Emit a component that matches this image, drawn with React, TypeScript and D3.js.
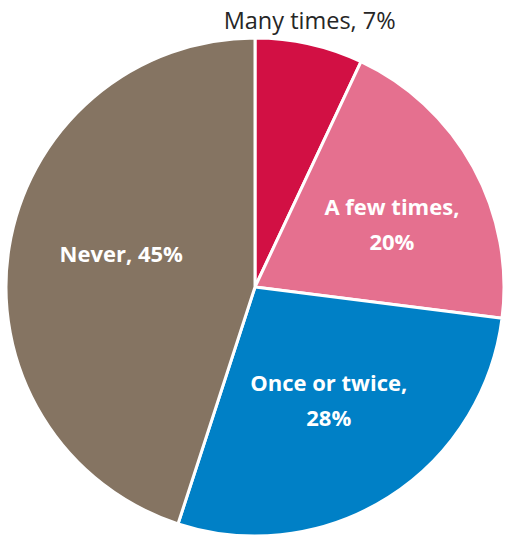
import React from "react";
import * as d3 from "d3";

const categories = ["Many times", "A few times", "Once or twice", "Never"];
const values = [7, 20, 28, 45];
const colors = ["#D21044", "#E5708F", "#0080C6", "#857462"];
const insideLabel = [false, true, true, true];
const labelLines = [["Many times, 7%"], ["A few times,", "20%"], ["Once or twice,", "28%"], ["Never, 45%"]];

export default function App() {
  const W = 507, H = 539;
  const cx = 255, cy = 287, r = 249;
  const labelRadius = [1.08, 0.6, 0.53, 0.54];
  const labelShift = [[-4, -5], [6, 8], [3, 1], [-1, -13]];
  const pie = d3.pie<number>().sort(null).value((d) => d);
  const arcs = pie(values);
  const arc = d3.arc<d3.PieArcDatum<number>>().innerRadius(0).outerRadius(r);
  const font = "'Open Sans', 'Noto Sans', sans-serif";
  return (
    <svg width={W} height={H} style={{ position: "absolute", left: 0, top: 0 }}>
      <g transform={`translate(${cx},${cy})`}>
        {arcs.map((a, i) => (
          <path key={categories[i]} d={arc(a) || ""} fill={colors[i]} stroke="#fff" strokeWidth={3} strokeLinejoin="round" />
        ))}
        {arcs.map((a, i) => {
          const mid = (a.startAngle + a.endAngle) / 2;
          const lr = r * labelRadius[i];
          const x = Math.sin(mid) * lr + labelShift[i][0];
          const y = -Math.cos(mid) * lr + labelShift[i][1];
          const lines = labelLines[i];
          const lh = 35;
          const y0 = y - ((lines.length - 1) * lh) / 2;
          return (
            <text
              key={"l" + i}
              x={x}
              textAnchor="middle"
              dominantBaseline="central"
              fontFamily={font}
              fontSize={insideLabel[i] ? 22 : 23.5}
              fontWeight={insideLabel[i] ? 700 : 400}
              fill={insideLabel[i] ? "#fff" : "#262626"}
            >
              {lines.map((t, k) => (
                <tspan key={k} x={x} y={y0 + k * lh}>{t}</tspan>
              ))}
            </text>
          );
        })}
      </g>
    </svg>
  );
}
